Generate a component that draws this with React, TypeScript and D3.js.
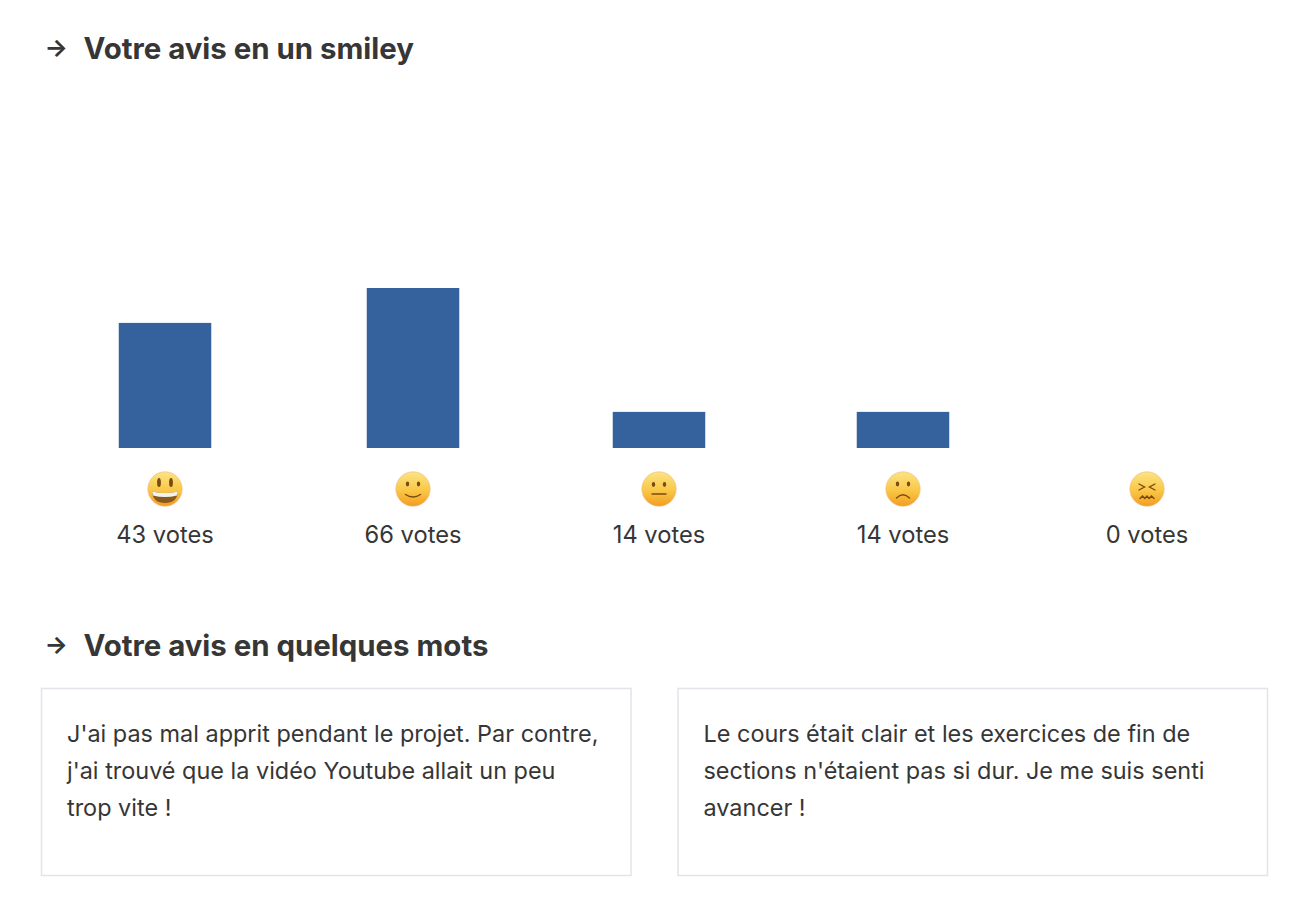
import React from "react";
import * as d3 from "d3";

const moods = ["grinning", "smile", "neutral", "frown", "confounded"];
const voteCounts = [43, 66, 14, 14, 0];
const barLevels = [51.6, 66, 14.9, 14.9, 0];
const headings = ["Votre avis en un smiley", "Votre avis en quelques mots"];
const commentA = ["J'ai pas mal apprit pendant le projet. Par contre,", "j'ai trouvé que la vidéo Youtube allait un peu", "trop vite !"];
const commentB = ["Le cours était clair et les exercices de fin de", "sections n'étaient pas si dur. Je me suis senti", "avancer !"];

const FONT = "Inter, 'Noto Sans', sans-serif";
const INK = "#363636";
const slotWidths = [97, 97, 93, 93, 93];
const slotGap = 151;
const slotStart = 116.5;
const centers = slotWidths.map((w, i) => slotStart + d3.sum(slotWidths.slice(0, i)) + i * slotGap + w / 2);
const x = d3.scaleOrdinal<string, number>().domain(moods).range(centers);
const y = d3.scaleLinear().domain([0, 66]).range([448, 288]);
const BAR_W = 92.5;

function Face({ mood, cx, cy }: { mood: string; cx: number; cy: number }) {
  const brown = "#7a4a12";
  const stroke = { fill: "none", stroke: brown, strokeWidth: 1.4, strokeLinecap: "round" as const };
  return (
    <g transform={`translate(${cx},${cy})`}>
      <title>{mood}</title>
      <circle r={17.2} fill="url(#faceGrad)" stroke="#f0b98a" strokeWidth={0.6} />
      {mood === "grinning" && (
        <>
          <ellipse cx={-6} cy={-6.5} rx={1.9} ry={4.6} fill={brown} />
          <ellipse cx={6} cy={-6.5} rx={1.9} ry={4.6} fill={brown} />
          <path d="M-13,2.5 Q0,5.5 13,2.5 Q12,14 0,14 Q-12,14 -13,2.5Z" fill="#8a5a1c" />
          <path d="M-13,2.5 Q0,5.5 13,2.5 L12,6.5 Q0,9.5 -12,6.5Z" fill="#f2f2f2" />
        </>
      )}
      {mood === "smile" && (
        <>
          <ellipse cx={-5.5} cy={-5} rx={1.7} ry={2.4} fill={brown} />
          <ellipse cx={5.5} cy={-5} rx={1.7} ry={2.4} fill={brown} />
          <path d="M-7.5,5.5 Q0,10.5 7.5,5.5" {...stroke} />
        </>
      )}
      {mood === "neutral" && (
        <>
          <ellipse cx={-5.5} cy={-4.5} rx={1.7} ry={2.4} fill={brown} />
          <ellipse cx={5.5} cy={-4.5} rx={1.7} ry={2.4} fill={brown} />
          <path d="M-7,5 L7,5" {...stroke} />
        </>
      )}
      {mood === "frown" && (
        <>
          <ellipse cx={-5.5} cy={-5} rx={1.7} ry={2.4} fill={brown} />
          <ellipse cx={5.5} cy={-5} rx={1.7} ry={2.4} fill={brown} />
          <path d="M-6.5,9 Q0,2.5 6.5,9" {...stroke} />
        </>
      )}
      {mood === "confounded" && (
        <>
          <path d="M-8,-5 L-2.5,-2 L-8,1" {...stroke} />
          <path d="M8,-5 L2.5,-2 L8,1" {...stroke} />
          <path d="M-7,9.5 L-4.5,7 L-2.2,9.5 L0,7 L2.2,9.5 L4.5,7 L7,9.5" {...stroke} />
        </>
      )}
    </g>
  );
}

function Heading({ text, baseline }: { text: string; baseline: number }) {
  return (
    <>
      <text x={44.5} y={baseline - 3} fontFamily={FONT} fontSize={24.5} fontWeight={700} fill={INK}>→</text>
      <text x={83.5} y={baseline} fontFamily={FONT} fontSize={29.4} fontWeight={700} fill={INK}>{text}</text>
    </>
  );
}

function Card({ bx, lines }: { bx: number; lines: string[] }) {
  return (
    <>
      <rect x={bx} y={688.5} width={589.5} height={187} fill="#fff" stroke="#e2e4e9" strokeWidth={1.5} />
      {lines.map((l, i) => (
        <text key={i} x={bx + 25.5} y={742 + i * 37} fontFamily={FONT} fontSize={23.45} fill={INK}>{l}</text>
      ))}
    </>
  );
}

export default function App() {
  return (
    <svg width={1300} height={902} style={{ position: "fixed", left: 0, top: 0, display: "block", background: "#fff" }}>
      <defs>
        <linearGradient id="faceGrad" x1="0" y1="0" x2="0" y2="1">
          <stop offset="0" stopColor="#fbe483" />
          <stop offset="0.55" stopColor="#f9c745" />
          <stop offset="1" stopColor="#f29d22" />
        </linearGradient>
      </defs>
      <Heading text={headings[0]} baseline={59} />
      {moods.map((m, i) => (
        <g key={m}>
          <rect x={x(m) - BAR_W / 2} y={y(barLevels[i])} width={BAR_W} height={y(0) - y(barLevels[i])} fill="#35619d" />
          <Face mood={m} cx={x(m)} cy={489} />
          <text x={x(m)} y={543} textAnchor="middle" fontFamily={FONT} fontSize={23.7} fill={INK}>{voteCounts[i]} votes</text>
        </g>
      ))}
      <Heading text={headings[1]} baseline={656} />
      <Card bx={41.5} lines={commentA} />
      <Card bx={678} lines={commentB} />
    </svg>
  );
}
